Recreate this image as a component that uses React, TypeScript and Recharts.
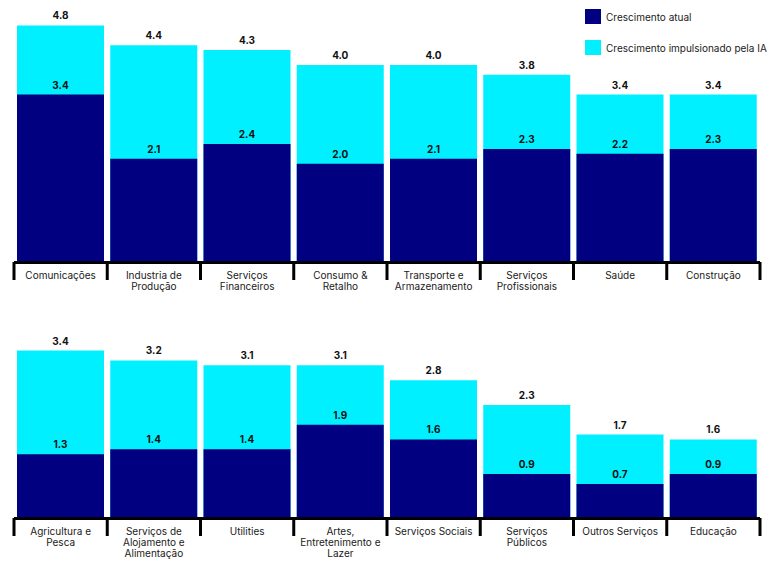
import React from 'react';
import { BarChart, Bar, XAxis, YAxis, LabelList } from 'recharts';

// row 1
const categoriesTop = [
  'Comunicações',
  'Industria de\nProdução',
  'Serviços\nFinanceiros',
  'Consumo &\nRetalho',
  'Transporte e\nArmazenamento',
  'Serviços\nProfissionais',
  'Saúde',
  'Construção',
];
const currentTop = [3.4, 2.1, 2.4, 2.0, 2.1, 2.3, 2.2, 2.3];
const aiTop = [4.8, 4.4, 4.3, 4.0, 4.0, 3.8, 3.4, 3.4];

// row 2
const categoriesBottom = [
  'Agricultura e\nPesca',
  'Serviços de\nAlojamento e\nAlimentação',
  'Utilities',
  'Artes,\nEntretenimento e\nLazer',
  'Serviços Sociais',
  'Serviços\nPúblicos',
  'Outros Serviços',
  'Educação',
];
const currentBottom = [1.3, 1.4, 1.4, 1.9, 1.6, 0.9, 0.7, 0.9];
const aiBottom = [3.4, 3.2, 3.1, 3.1, 2.8, 2.3, 1.7, 1.6];

const NAVY = '#000080';
const CYAN = '#00F0FF';
const FONT = 'Inter, "Noto Sans", sans-serif';

const CHART_W = 774;
const MARGIN_X = 14;
const BAND = (CHART_W - MARGIN_X * 2) / 8;
const BASE_Y = 262;

const CategoryTick = (props: any) => {
  const { x, payload, index } = props;
  const lines = String(payload.value).split('\n');
  const left = x - BAND / 2;
  return (
    <g>
      <line x1={left} x2={left} y1={BASE_Y} y2={BASE_Y + 18} stroke="#000" strokeWidth={3} />
      {index === 7 && (
        <line x1={left + BAND} x2={left + BAND} y1={BASE_Y} y2={BASE_Y + 18} stroke="#000" strokeWidth={3} />
      )}
      <text x={x} y={BASE_Y + 17} textAnchor="middle" fontSize={10} fill="#1a1a1a" fontFamily={FONT}>
        {lines.map((l, i) => (
          <tspan key={i} x={x} dy={i === 0 ? 0 : 11}>
            {l}
          </tspan>
        ))}
      </text>
    </g>
  );
};

const fmt = (v: any) => Number(v).toFixed(1);

function Row({ cats, cur, ai, height }: { cats: string[]; cur: number[]; ai: number[]; height: number }) {
  const data = cats.map((name, i) => ({ name, atual: cur[i], ia: ai[i] }));
  return (
    <BarChart
      width={CHART_W}
      height={height}
      data={data}
      margin={{ top: 15.5, right: MARGIN_X, left: MARGIN_X, bottom: 0 }}
      barSize={87}
      barGap={-87}
      barCategoryGap={0}
    >
      <XAxis
        dataKey="name"
        interval={0}
        height={height - BASE_Y - 0.5 + 0}
        axisLine={{ stroke: '#000', strokeWidth: 3 }}
        tickLine={false}
        tick={<CategoryTick />}
      />
      <YAxis hide domain={[0, 5]} />
      <Bar dataKey="ia" fill={CYAN} isAnimationActive={false}>
        <LabelList dataKey="ia" position="top" offset={6} formatter={fmt} fontSize={10} fontWeight={700} fill="#111" fontFamily={FONT} />
      </Bar>
      <Bar dataKey="atual" fill={NAVY} isAnimationActive={false}>
        <LabelList dataKey="atual" position="top" offset={6} formatter={fmt} fontSize={10} fontWeight={700} fill="#111" fontFamily={FONT} />
      </Bar>
    </BarChart>
  );
}

export default function App() {
  return (
    <div style={{ position: 'absolute', left: 0, top: 0, width: 774, height: 562, background: '#fff', fontFamily: FONT }}>
      <div style={{ position: 'absolute', left: 0, top: 0 }}>
        <Row cats={categoriesTop} cur={currentTop} ai={aiTop} height={300} />
      </div>
      <div style={{ position: 'absolute', left: 0, top: 256 }}>
        <Row cats={categoriesBottom} cur={currentBottom} ai={aiBottom} height={306} />
      </div>
      <div style={{ position: 'absolute', left: 585, top: 9, fontSize: 10, color: '#1a1a1a' }}>
        <div style={{ display: 'flex', alignItems: 'center', height: 15 }}>
          <span style={{ width: 16, height: 15, background: NAVY, display: 'inline-block', marginRight: 5 }} />
          Crescimento atual
        </div>
        <div style={{ display: 'flex', alignItems: 'center', height: 15, marginTop: 16 }}>
          <span style={{ width: 16, height: 15, background: CYAN, display: 'inline-block', marginRight: 5 }} />
          Crescimento impulsionado pela IA
        </div>
      </div>
    </div>
  );
}
